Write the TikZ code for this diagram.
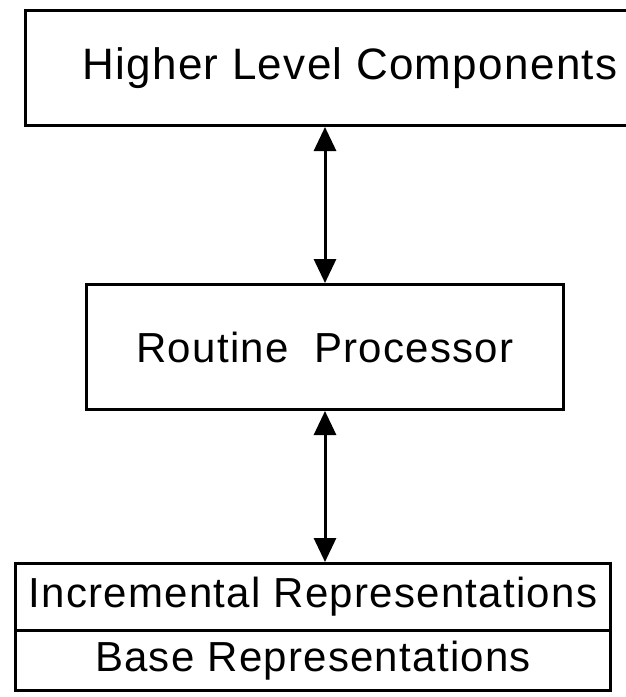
\documentclass[tikz,border=0pt]{standalone}
\usepackage{fontspec}
\setmainfont{Liberation Sans}[LetterSpace=3]
\usetikzlibrary{arrows.meta}
\usetikzlibrary{positioning}
\tikzset{block/.style = {draw, line width=3pt, inner sep=0, font=\fontsize{42}{50}\selectfont}}
\tikzset{link/.style = {{Triangle[length=24pt,width=22pt]}-{Triangle[length=24pt,width=22pt]}, line width=3pt}}

\begin{document}
\begin{tikzpicture}[x=1pt,y=-1pt]
        \useasboundingbox (0,0) rectangle (625,697);
        \node [block, minimum width=650, minimum height=115, font=\fontsize{44}{50}\selectfont] (hlc) at (350,68) {Higher Level Components};
        \node [block, minimum width=477, minimum height=125] (rp) at (325,347) {Routine\ \ Processor};
        \node [block, minimum width=595, minimum height=67] (inc) at (313,597) {Incremental Representations};
        \node [block, minimum width=595, minimum height=60, below=-3pt of inc] (base) {Base Representations};
        \draw [link] (rp.north |- hlc.south) -- (rp.north);
        \draw [link] (rp.south) -- (rp.south |- inc.north);
    \end{tikzpicture}
\end{document}
